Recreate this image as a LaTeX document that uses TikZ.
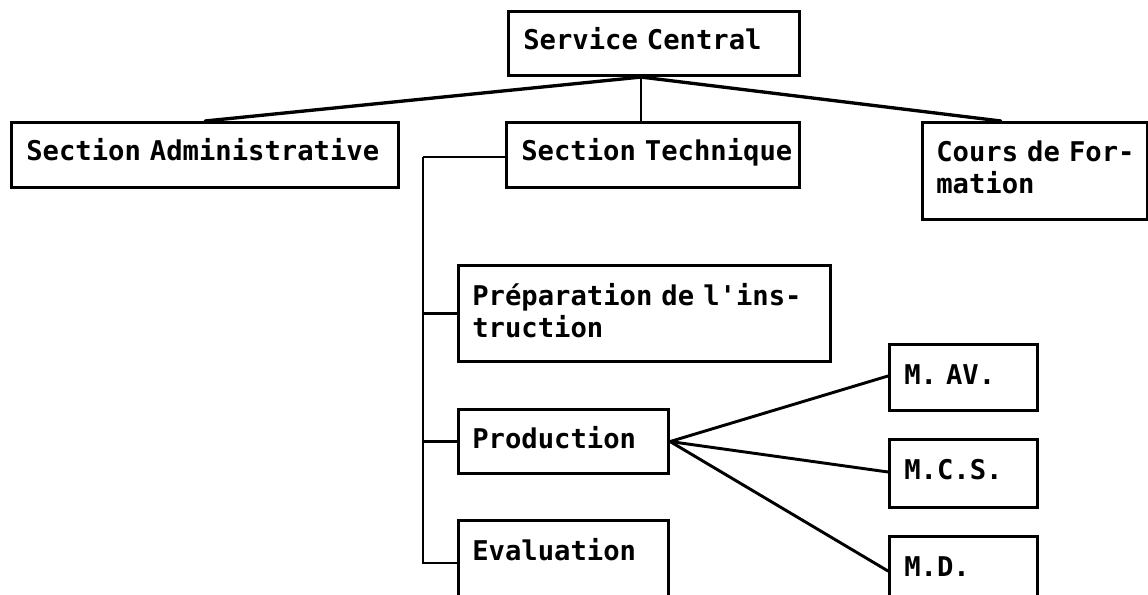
\documentclass[tikz,border=0pt]{standalone}
\usepackage{fontspec}
\newfontfamily\typefont{DejaVu Sans Mono}
\usetikzlibrary{calc}
% label face: bold monospaced, with a full character width between words
\DeclareRobustCommand\orgfont{\typefont\bfseries\fontsize{20.4pt}{24pt}\selectfont
  \spaceskip=\fontcharwd\font`M\relax}
\begin{document}
\begin{tikzpicture}[x=0.75pt,y=-0.75pt,
  box/.style 2 args={draw, line width=2.3pt, anchor=north west, inner sep=0pt,
    minimum width=#1*0.75pt, minimum height=#2*0.75pt},
  txt/.style={anchor=base west, inner sep=0pt, text width=320pt, align=left,
    font=\orgfont},
  link/.style={line width=2.5pt, line cap=round},
  bus/.style={line width=1.8pt},
  fan/.style={line width=2.2pt, line cap=round}]
\path[use as bounding box] (0,0) rectangle (1148,595);
\fill[white] (0,0) rectangle (1148,595);
\clip (0,0) rectangle (1148,595);

% boxes
\node[box={291}{64}]  (sc)  at (507,10)  {};
\node[box={387}{65}]  (sa)  at (10,121)  {};
\node[box={293}{65}]  (st)  at (505,121) {};
\node[box={225}{97}]  (cf)  at (921,121) {};
\node[box={372}{96}]  (pi)  at (457,264) {};
\node[box={210}{64}]  (pr)  at (457,408) {};
\node[box={210}{100}] (ev)  at (457,519) {};
\node[box={148}{66}]  (mav) at (888,343) {};
\node[box={148}{68}]  (mcs) at (888,438) {};
\node[box={148}{100}] (md)  at (888,535) {};

% labels
\node[txt] (sc-t)  at ($(sc.north west)+(16,40)$)  {Service Central};
\node[txt] (sa-t)  at ($(sa.north west)+(16,40)$)  {Section Administrative};
\node[txt] (st-t)  at ($(st.north west)+(16,40)$)  {Section Technique};
\node[txt] (cf-t)  at ($(cf.north west)+(15,41)$)  {Cours de For-\\mation};
\node[txt] (pi-t)  at ($(pi.north west)+(15,41)$)  {Préparation de l'ins-\\truction};
\node[txt] (pr-t)  at ($(pr.north west)+(15,40)$)  {Production};
\node[txt] (ev-t)  at ($(ev.north west)+(15,41)$)  {Evaluation};
\node[txt] (mav-t) at ($(mav.north west)+(16,41)$) {M. AV.};
\node[txt] (mcs-t) at ($(mcs.north west)+(16,41)$) {M.C.S.};
\node[txt] (md-t)  at ($(md.north west)+(16,41)$)  {M.D.};

% top level links
\coordinate (hub) at ($(sc.south west)+(134,0)$);
\draw[link] (hub) -- (sa.north);
\draw[bus]  (hub) -- (hub |- st.north);
\draw[link] (hub) -- ($(cf.north west)!0.35!(cf.north east)$);

% technical section bus
\coordinate (bus-top) at ($(st.north west)+(-82,36)$);
\draw[bus] (bus-top) -- (bus-top -| st.west);
\draw[bus] (bus-top) -- ($(bus-top |- ev.north)+(0,44)$) -- ($(ev.north west)+(0,44)$);
\draw[bus] (bus-top |- pi.west) -- (pi.west);
\draw[bus] (bus-top |- pr.west) -- (pr.west);

% production branches
\draw[fan] (pr.east) -- ($(mav.north west)+(0,33)$);
\draw[fan] (pr.east) -- ($(mcs.north west)+(0,34)$);
\draw[fan] (pr.east) -- ($(md.north west)+(0,36)$);
\end{tikzpicture}
\end{document}
